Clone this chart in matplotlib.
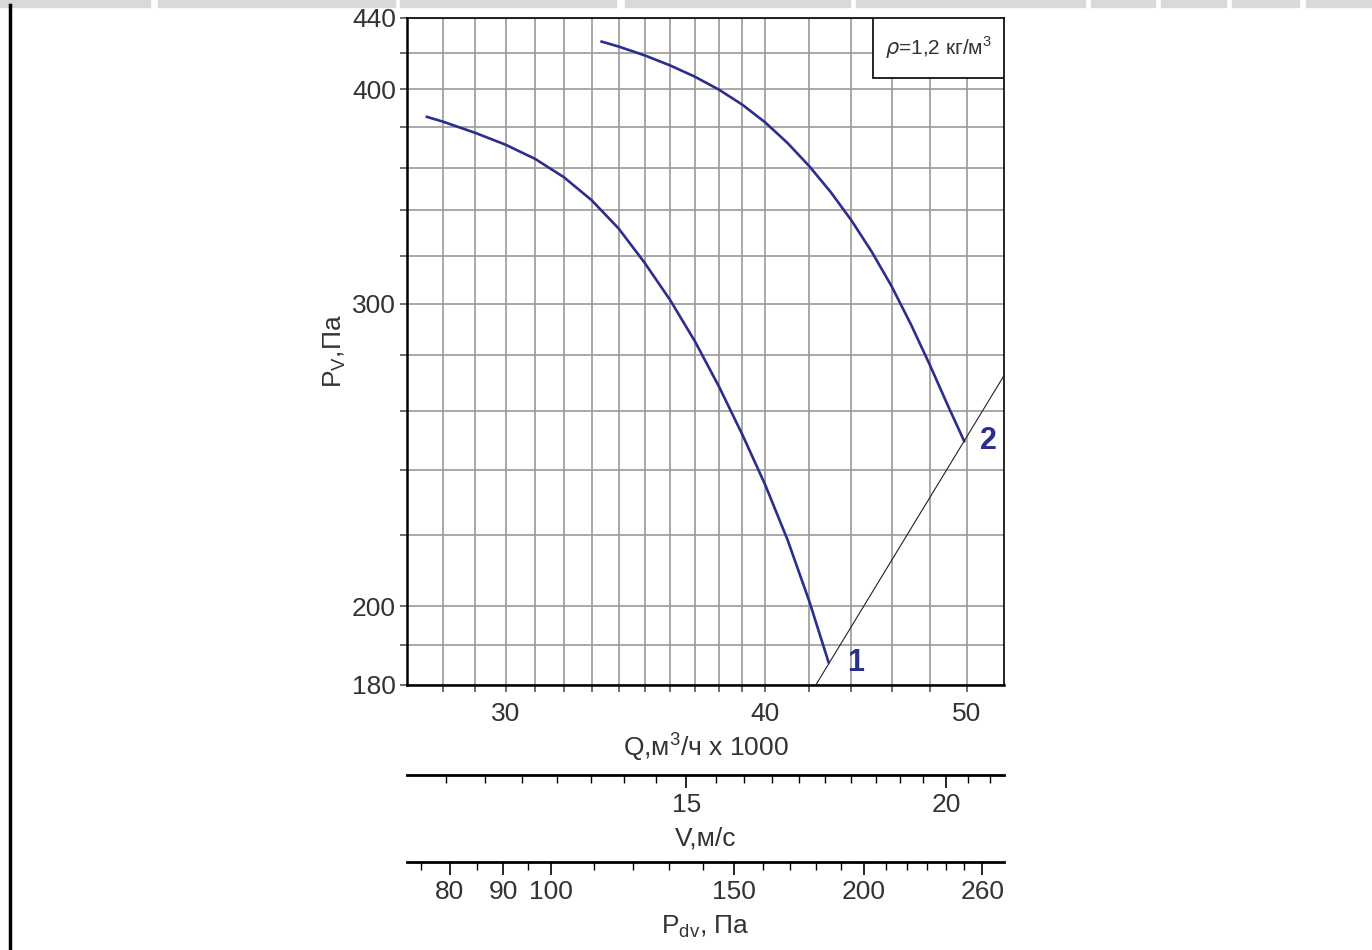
import matplotlib
matplotlib.use("Agg")
import matplotlib.pyplot as plt
from matplotlib.ticker import NullFormatter
from matplotlib.patches import Rectangle

plt.rcParams['font.family'] = ['Liberation Sans', 'DejaVu Sans']
plt.rcParams['mathtext.fontset'] = 'dejavusans'

# Fan curves (Q in 1000 m3/h, Pv in Pa)
q1 = [27.5, 28, 29, 30, 31, 32, 33, 34, 35, 36, 37, 38, 39, 40, 41, 42, 42.9]
p1 = [385.4, 382.9, 377.3, 371.3, 364.3, 355.5, 344.7, 331.9, 316.9, 301.5,
      285.3, 268.5, 251.7, 235.3, 218.6, 201.3, 185.6]
q2 = [33.37, 34, 35, 36, 37, 38, 39, 40, 41, 42, 43, 44, 45, 46, 47, 48, 49,
      49.85]
p2 = [426.3, 423.5, 418.5, 412.9, 406.7, 399.7, 391.7, 382.5, 372.1, 360.7,
      348.5, 335.5, 321.7, 307.2, 291.8, 276.3, 261.2, 249.6]
# system line (straight in log-log)
q_sys = [42.3, 52.1]
p_sys = [180.0, 272.5]

# axis ranges and ticks
q_lim = (26.9, 52.1)
p_lim = (180, 440)
q_major = [30, 40, 50]
q_minor = [28, 29, 31, 32, 33, 34, 35, 36, 37, 38, 39, 42, 44, 46, 48]
p_major = [180, 200, 300, 400, 440]
p_minor = [190, 220, 240, 260, 280, 320, 340, 360, 380, 420]

q_per_v = 2.443   # 1000 m3/h per m/s
rho = 1.2
v_major = [15, 20]
v_minor = [11.5, 12, 12.5, 13, 13.5, 14, 14.5, 15.5, 16, 16.5, 17, 17.5,
           18, 18.5, 19, 19.5, 20.5, 21]
pdv_major = [80, 90, 100, 150, 200, 260]
pdv_minor = [75, 85, 95, 110, 120, 130, 140, 160, 170, 180, 190, 210, 220,
             230, 240, 250]

blue = '#2b2e8c'
txt = '#333333'
grid_c = '#9a9a9a'
fs = 19

fig = plt.figure(figsize=(13.72, 9.5), dpi=100)

# clipped table strip at the top and the page border line
for x0, x1 in [(0, 150), (158, 395), (400, 616), (625, 850), (856, 1085),
               (1091, 1155), (1161, 1226), (1232, 1299), (1306, 1372)]:
    fig.patches.append(Rectangle((x0 / 1372, 1 - 7 / 950), (x1 - x0) / 1372,
                                 7 / 950, transform=fig.transFigure,
                                 color='#d9d9d9', zorder=0))
fig.add_artist(plt.Line2D([10 / 1372, 10 / 1372], [0, 1 - 5 / 950],
                          transform=fig.transFigure, color='black', lw=2.5))

L, W = 407 / 1372, 597 / 1372
ax = fig.add_axes([L, 1 - 685 / 950, W, 667 / 950])
ax.set_xscale('log')
ax.set_yscale('log')
ax.set_xlim(*q_lim)
ax.set_ylim(*p_lim)
ax.set_xticks(q_major, labels=[str(v) for v in q_major])
ax.set_xticks(q_minor, minor=True)
ax.set_yticks(p_major, labels=[str(v) for v in p_major])
ax.set_yticks(p_minor, minor=True)
ax.xaxis.set_minor_formatter(NullFormatter())
ax.yaxis.set_minor_formatter(NullFormatter())
ax.grid(True, which='both', color=grid_c, lw=1.2)
ax.tick_params(which='both', direction='out', length=5, width=1.2,
               color='#555555', labelsize=fs, labelcolor=txt)
ax.tick_params(axis='x', pad=7)
ax.tick_params(axis='y', pad=3)
for s in ['left', 'bottom']:
    ax.spines[s].set_linewidth(1.8)
for s in ['top', 'right']:
    ax.spines[s].set_linewidth(1.2)

ax.plot(q1, p1, color=blue, lw=1.9, zorder=3)
ax.plot(q2, p2, color=blue, lw=1.9, zorder=3)
ax.plot(q_sys, p_sys, color='#222222', lw=0.8, zorder=3)
ax.text(44.2, 185.5, '1', color=blue, fontsize=22, fontweight='bold',
        ha='center', va='center', zorder=4)
ax.text(51.2, 249.5, '2', color=blue, fontsize=22, fontweight='bold',
        ha='center', va='center', zorder=4)

ax.add_patch(Rectangle((0.7806, 0.910), 0.2194, 0.09, transform=ax.transAxes,
                       facecolor='white', edgecolor='black', lw=1.2, zorder=5))
ax.text(0.8903, 0.955, r'$\rho$=1,2 кг/м$^\mathregular{3}$',
        transform=ax.transAxes, ha='center', va='center', fontsize=15,
        color=txt, zorder=6)

ax.set_xlabel('Q,м$^\mathregular{3}$/ч x 1000', fontsize=fs, color=txt,
              labelpad=3)
ax.set_ylabel('P$_\\mathregular{V}$,Па', fontsize=fs, color=txt, labelpad=3)


def scale_axis(ypix, lim, major, minor, label):
    a = fig.add_axes([L, 1 - ypix / 950, W, 0.0001])
    a.set_facecolor('none')
    for s in ['top', 'left', 'right']:
        a.spines[s].set_visible(False)
    a.spines['bottom'].set_linewidth(2)
    a.yaxis.set_visible(False)
    a.set_xscale('log')
    a.set_xlim(*lim)
    a.set_xticks(major, labels=[str(v) for v in major])
    a.set_xticks(minor, minor=True)
    a.xaxis.set_minor_formatter(NullFormatter())
    a.tick_params(which='major', direction='out', length=9, width=1.2,
                  labelsize=fs, labelcolor=txt, pad=4)
    a.tick_params(which='minor', direction='out', length=6, width=1.0)
    a.set_xlabel(label, fontsize=fs, color=txt, labelpad=7)
    return a


v_lim = (q_lim[0] / q_per_v, q_lim[1] / q_per_v)
pdv_lim = (rho / 2 * v_lim[0] ** 2, rho / 2 * v_lim[1] ** 2)
scale_axis(775, v_lim, v_major, v_minor, 'V,м/с')
scale_axis(862, pdv_lim, pdv_major, pdv_minor, 'P$_\\mathregular{dv}$, Па')

fig.savefig('out.png', dpi=100)
